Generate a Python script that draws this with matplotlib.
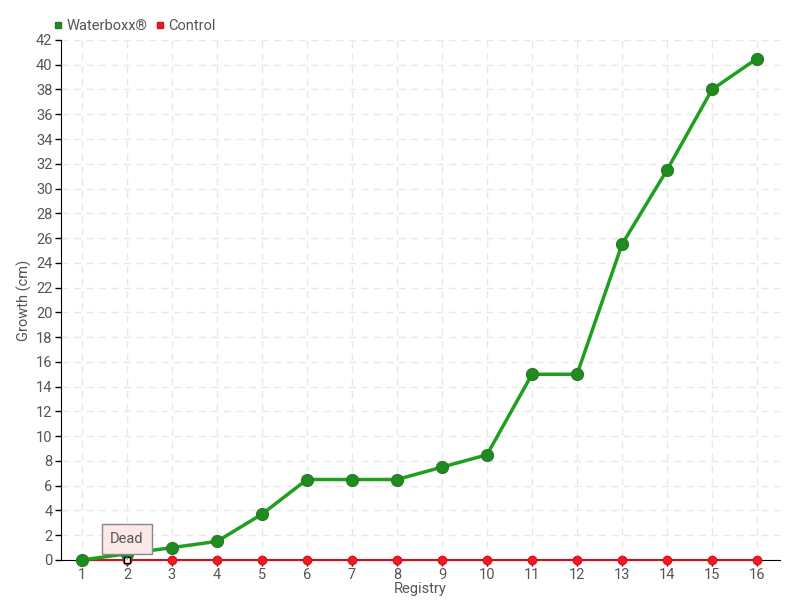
import matplotlib.pyplot as plt

# Registry numbers and growth (cm)
registry = list(range(1, 17))
waterboxx = [0, 0.5, 1, 1.5, 3.7, 6.5, 6.5, 6.5, 7.5, 8.5, 15, 15, 25.5, 31.5, 38, 40.5]
control = [0] * 16

plt.rcParams['font.family'] = ['Roboto', 'DejaVu Sans']

fig = plt.figure(figsize=(8, 6), dpi=100)
ax = fig.add_axes([0.076, 0.0667, 0.899, 0.8667])

ax.plot(registry, control, color='#d40f1a', lw=1.5, marker='o', ms=6,
        mfc='#ee1c25', mec='#e0101c', zorder=3, clip_on=False, label='Control')
ax.plot(registry, waterboxx, color='#1ea01e', lw=2.5, marker='o', ms=8.5,
        mfc='#1e8c1e', mec='#2a7a2a', zorder=4, clip_on=False, label='Waterboxx®')

ax.set_xlim(0.53, 16.51)
ax.set_ylim(0, 42)
ax.set_xticks(registry)
ax.set_yticks(range(0, 43, 2))
ax.grid(True, color='#e8e8e8', linestyle=(0, (5, 4)), lw=1)
ax.set_axisbelow(True)
for s in ['top', 'right']:
    ax.spines[s].set_visible(False)
ax.spines['left'].set_color('black')
ax.spines['bottom'].set_color('black')
ax.tick_params(colors='#555555', labelsize=10.5, length=4, width=1, pad=2)
ax.tick_params(axis='both', color='black')

ax.set_xlabel('Registry', color='#555555', fontsize=10.5, labelpad=0)
ax.set_ylabel('Growth (cm)', color='#555555', fontsize=10.5)
ax.yaxis.set_label_coords(-0.04, 0.5)

# "Dead" note at registry 2
ax.plot([2], [0], marker='s', ms=5, mfc='white', mec='black', zorder=6, clip_on=False)
ax.annotate('Dead', xy=(2, 0), xytext=(2, 1.7), ha='center', va='center',
            color='#555555', fontsize=10.5, zorder=7,
            bbox=dict(boxstyle='square,pad=0.55', fc='#fde8e8', ec='#888888'),
            arrowprops=dict(arrowstyle='-', color='#888888', lw=0.8))

handles, labels = ax.get_legend_handles_labels()
fig.legend(handles[::-1], labels[::-1], loc='upper left', bbox_to_anchor=(0.052, 0.99),
           ncol=2, frameon=False, fontsize=10.5, labelcolor='#555555',
           handlelength=0.5, handletextpad=0.3, columnspacing=0.6)
for h in fig.legends[0].legend_handles:
    h.set_linestyle('')
    h.set_marker('s')
    h.set_markersize(5)

fig.savefig('out.png')
plt.close()
